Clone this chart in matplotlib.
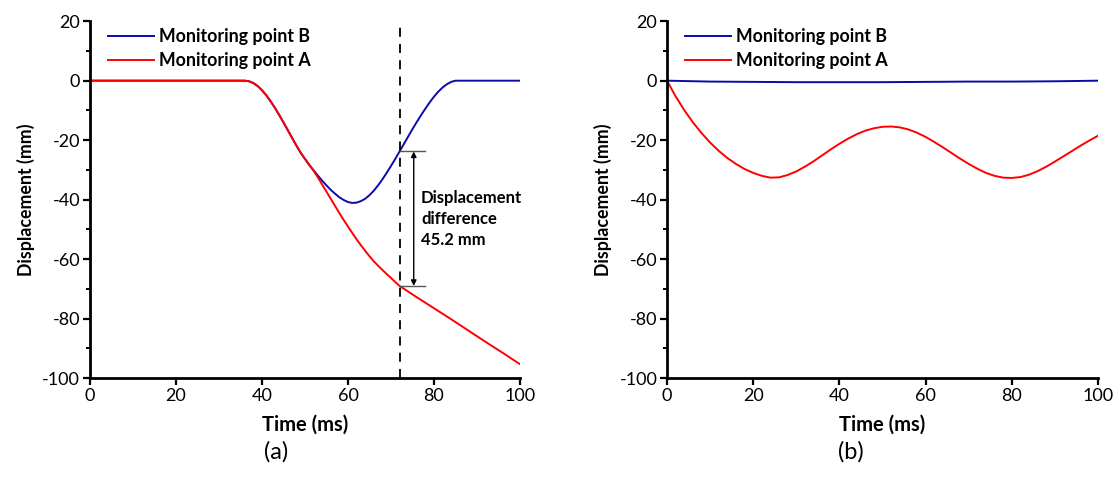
import matplotlib
matplotlib.use("Agg")
import matplotlib.pyplot as plt
from matplotlib.ticker import MultipleLocator

plt.rcParams['font.family'] = ['Lato', 'DejaVu Sans']
plt.rcParams['axes.unicode_minus'] = False

# ---------------- data (a) ----------------
time_a_B = [0, 10, 20, 30, 36, 37, 38, 39, 40, 41, 42, 43, 44, 45, 46, 47, 48, 49, 50, 51,
            52, 53, 54, 55, 56, 57, 58, 59, 60, 61, 62, 63, 64, 65, 66, 67, 68, 69, 70, 71,
            72, 73, 74, 75, 76, 77, 78, 79, 80, 81, 82, 83, 84, 85, 86, 90, 95, 100]
disp_B_a = [0, 0, 0, 0, 0, -0.2, -0.8, -1.8, -3.2, -4.9, -6.9, -9.1, -11.5, -14.0, -16.6,
            -19.2, -21.8, -24.2, -26.3, -28.3, -30.1, -31.9, -33.6, -35.2, -36.7, -38.0,
            -39.2, -40.1, -40.8, -41.1, -41.0, -40.5, -39.7, -38.5, -37.0, -35.2, -33.2,
            -31.0, -28.7, -26.3, -23.8, -21.3, -18.8, -16.3, -13.9, -11.6, -9.4, -7.3, -5.4,
            -3.7, -2.3, -1.2, -0.4, 0, 0, 0, 0, 0]
time_a_A = [0, 10, 20, 30, 36, 37, 38, 39, 40, 41, 42, 43, 44, 45, 46, 47, 48, 49, 50, 51,
            52, 53, 54, 55, 56, 57, 58, 59, 60, 61, 62, 63, 64, 65, 66, 67, 68, 69, 70, 71,
            72, 76, 80, 84, 88, 92, 96, 100]
disp_A_a = [0, 0, 0, 0, 0, -0.2, -0.8, -1.8, -3.2, -4.9, -6.9, -9.1, -11.5, -14.0, -16.6,
            -19.2, -21.8, -24.2, -26.3, -28.3, -30.3, -32.5, -34.9, -37.3, -39.7, -42.1,
            -44.5, -46.8, -49.0, -51.2, -53.3, -55.3, -57.2, -59.0, -60.7, -62.2, -63.6,
            -65.0, -66.3, -67.7, -69.0, -72.8, -76.5, -80.2, -84.0, -87.8, -91.5, -95.3]
marker_time = 72
B_at_marker = -23.8
A_at_marker = -69.0

# ---------------- data (b) ----------------
time_b_A = [0, 2, 4, 6, 8, 10, 12, 14, 16, 18, 20, 22, 24, 26, 28, 30, 32, 34, 36, 38, 40,
            42, 44, 46, 48, 50, 52, 54, 56, 58, 60, 62, 64, 66, 68, 70, 72, 74, 76, 78, 80,
            82, 84, 86, 88, 90, 92, 94, 96, 98, 100]
disp_A_b = [0, -5.3, -9.9, -14.0, -17.6, -20.8, -23.6, -26.0, -28.0, -29.7, -31.0, -32.0,
            -32.6, -32.5, -31.7, -30.5, -28.9, -27.1, -25.1, -23.1, -21.2, -19.5, -18.0,
            -16.8, -16.0, -15.5, -15.4, -15.7, -16.4, -17.5, -18.9, -20.6, -22.4, -24.3,
            -26.2, -28.0, -29.6, -31.0, -32.0, -32.6, -32.7, -32.4, -31.6, -30.4, -28.9,
            -27.2, -25.4, -23.6, -21.8, -20.1, -18.5]
time_b_B = [0, 10, 20, 30, 40, 50, 60, 70, 80, 90, 100]
disp_B_b = [0, -0.3, -0.4, -0.5, -0.5, -0.5, -0.4, -0.3, -0.3, -0.2, 0]

x_ticks = [0, 20, 40, 60, 80, 100]
y_ticks = [20, 0, -20, -40, -60, -80, -100]
series_names = ['Monitoring point B', 'Monitoring point A']
panel_labels = ['(a)', '(b)']

BLUE = '#0a0aa8'
RED = '#ff0000'

fig = plt.figure(figsize=(11.16, 4.93), dpi=100)
ax1 = fig.add_axes([0.0806, 0.233, 0.3853, 0.724])
ax2 = fig.add_axes([0.5977, 0.233, 0.3862, 0.724])


def style(ax):
    ax.set_xlim(0, 100)
    ax.set_ylim(-100, 20)
    ax.set_xticks(x_ticks)
    ax.set_yticks(y_ticks)
    ax.yaxis.set_minor_locator(MultipleLocator(10))
    for s in ['top', 'right']:
        ax.spines[s].set_visible(False)
    for s in ['left', 'bottom']:
        ax.spines[s].set_linewidth(2)
    ax.tick_params(which='major', direction='out', length=5, width=1.6, labelsize=13, pad=2)
    ax.tick_params(which='minor', direction='out', length=3, width=1.4)
    ax.set_xlabel('Time (ms)', fontsize=14.5, fontweight='bold', labelpad=8)
    ax.set_ylabel('Displacement (mm)', fontsize=12.8, fontweight='bold', labelpad=5)


for ax in (ax1, ax2):
    style(ax)

# (a)
ax1.plot(time_a_B, disp_B_a, color=BLUE, lw=1.4, label=series_names[0])
ax1.plot(time_a_A, disp_A_a, color=RED, lw=1.4, label=series_names[1])
ax1.axvline(marker_time, color='black', lw=1.3, ls=(0, (5, 4)))
ax1.plot([marker_time, marker_time + 6], [B_at_marker, B_at_marker], color='#555555', lw=1)
ax1.plot([marker_time, marker_time + 6], [A_at_marker, A_at_marker], color='#555555', lw=1)
ax1.annotate('', xy=(marker_time + 3.3, A_at_marker), xytext=(marker_time + 3.3, B_at_marker),
             arrowprops=dict(arrowstyle='<|-|>', color='black', lw=1, mutation_scale=8,
                             shrinkA=0, shrinkB=0))
diff = B_at_marker - A_at_marker
ax1.text(marker_time + 5, (B_at_marker + A_at_marker) / 2,
         f'Displacement\ndifference\n{diff:.1f} mm', fontsize=12, fontweight='bold',
         ha='left', va='center', linespacing=1.4)

# (b)
ax2.plot(time_b_B, disp_B_b, color=BLUE, lw=1.4, label=series_names[0])
ax2.plot(time_b_A, disp_A_b, color=RED, lw=1.4, label=series_names[1])

for ax in (ax1, ax2):
    ax.legend(loc='upper left', bbox_to_anchor=(0.042, 0.981), frameon=False,
              prop=dict(size=12.8, weight='bold'), handlelength=2.6, handletextpad=0.25,
              labelspacing=0.4, borderaxespad=0, borderpad=0)

fig.text(0.247, 0.083, panel_labels[0], fontsize=17, ha='center', va='center')
fig.text(0.762, 0.083, panel_labels[1], fontsize=17, ha='center', va='center')

fig.savefig('out.png', dpi=100)
